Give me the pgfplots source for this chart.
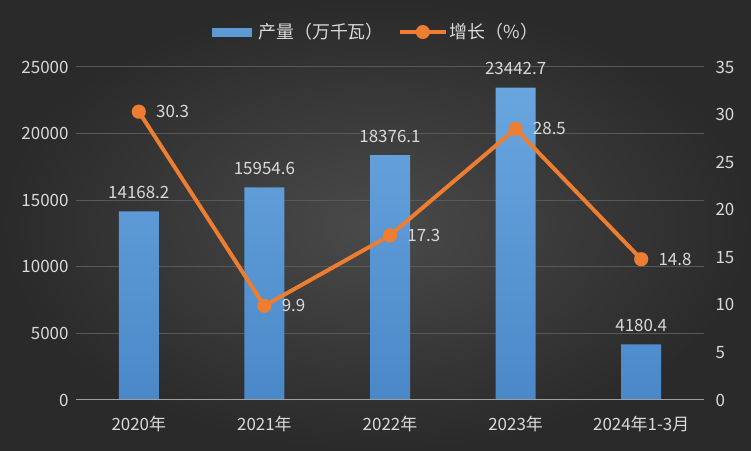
\documentclass[border=0pt]{standalone}
\usepackage{fontspec}
\setmainfont{Noto Sans CJK SC}
\usepackage{pgfplots}
\pgfplotsset{compat=1.18}

\definecolor{bgin}{HTML}{4A4A4A}
\definecolor{bgout}{HTML}{2A2A2A}
\definecolor{lbl}{HTML}{D9D9D9}
\definecolor{gridc}{HTML}{595959}
\definecolor{barc}{HTML}{5B9BD5}
\definecolor{bartop}{HTML}{69A6E0}
\definecolor{barbot}{HTML}{4A88C8}
\definecolor{linec}{HTML}{ED7D31}

\newcommand{\fs}{\fontsize{17}{17}\selectfont}

\pgfplotsset{
  common/.style={
    scale only axis, width=628bp, height=333bp,
    xmin=-0.5, xmax=4.5,
    axis line style={draw=none},
    major tick style={draw=none},
    ticklabel style={color=lbl, font=\fs},
    /pgf/number format/assume math mode=true,
    scaled y ticks=false,
    y tick label style={/pgf/number format/1000 sep={}},
  },
}

\begin{document}
\begin{tikzpicture}[x=1bp,y=1bp]
\shade[inner color=bgin, outer color=bgout, use as bounding box] (-76,-51) rectangle (675,400);

\begin{axis}[common,
  ymin=0, ymax=25000, ytick={0,5000,...,25000},
  xtick={0,...,4},
  xticklabels={2020年,2021年,2022年,2023年,2024年1-3月},
  x tick label style={yshift=-8bp},
  y tick label style={xshift=-4bp},
  ymajorgrids, grid style={draw=gridc, line width=1bp},
  ybar, bar width=40bp,
  nodes near coords,
  every node near coord/.append style={color=lbl, font=\fs, yshift=9bp,
    /pgf/number format/.cd, fixed, fixed zerofill, precision=1, 1000 sep={}},
]
\addplot[draw=none, top color=bartop, bottom color=barbot] coordinates {
  (0,14168.2) (1,15954.6) (2,18376.1) (3,23442.7) (4,4180.4)};
\draw[color=gray!75, line width=2.2bp] (axis cs:-0.5,0) -- (axis cs:4.5,0);
\end{axis}

\begin{axis}[common,
  ymin=0, ymax=35, ytick={0,5,...,35},
  axis y line*=right, axis x line=none,
  y tick label style={xshift=8bp},
  legend columns=2,
  legend style={at={(0.478,1.105)}, anchor=center, draw=none, fill=none,
    text=lbl, font=\fontsize{18}{18}\selectfont,
    /tikz/every even column/.append style={column sep=12bp}},
]
\addlegendimage{legend image code/.code={
  \fill[barc, draw=none] (0bp,-4.5bp) rectangle (40bp,4.5bp);
  \path[draw=none] (0bp,0bp) -- (44bp,0bp);}}
\addlegendentry{产量（万千瓦）}
\addlegendimage{legend image code/.code={
  \draw[linec, line width=4bp] (0bp,0bp) -- (46bp,0bp);
  \fill[linec, draw=none] (23bp,0bp) circle (7bp);}}
\addlegendentry{增长（\%）}
\addplot[linec, line width=4bp, mark=*, mark size=7bp,
  mark options={fill=linec, draw=linec, line width=0.1bp},
  nodes near coords, point meta=explicit symbolic,
  every node near coord/.append style={color=lbl, font=\fs, anchor=west, xshift=14bp, yshift=0bp}]
  coordinates {(0,30.3)[30.3] (1,9.9)[9.9] (2,17.3)[17.3] (3,28.5)[28.5] (4,14.8)[14.8]};
\end{axis}
\end{tikzpicture}
\end{document}
